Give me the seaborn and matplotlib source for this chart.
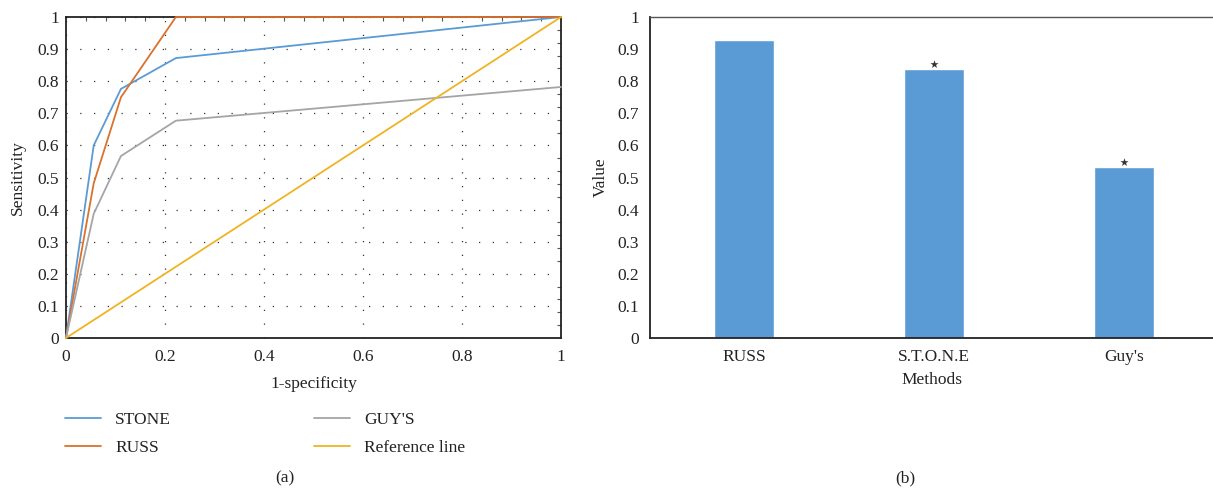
import numpy as np
import pandas as pd
import matplotlib
matplotlib.use("Agg")
import matplotlib.pyplot as plt
import seaborn as sns
from matplotlib.ticker import MultipleLocator

# ==================================================
# DATA
# ==================================================

fpr = [0, 0.056, 0.111, 0.222, 1.0]
stone_tpr = [0, 0.60, 0.776, 0.872, 1.0]
russ_tpr = [0, 0.482, 0.75, 1.0, 1.0]
guys_tpr = [0, 0.387, 0.567, 0.677, 0.782]
ref_x = [0, 1]
ref_y = [0, 1]

methods = ["RUSS", "S.T.O.N.E", "Guy's"]
values = [0.928, 0.837, 0.532]
starred = [False, True, True]

y_ticks = [0, 0.1, 0.2, 0.3, 0.4, 0.5, 0.6, 0.7, 0.8, 0.9, 1.0]
y_labels = ["0", "0.1", "0.2", "0.3", "0.4", "0.5", "0.6", "0.7", "0.8", "0.9", "1"]
x_ticks = [0, 0.2, 0.4, 0.6, 0.8, 1.0]
x_labels = ["0", "0.2", "0.4", "0.6", "0.8", "1"]

# ==================================================
# STYLE
# ==================================================

sns.set_style("white")
plt.rcParams["font.family"] = ["Liberation Serif", "DejaVu Serif"]
plt.rcParams["text.color"] = "#222222"
plt.rcParams["axes.labelcolor"] = "#222222"
plt.rcParams["xtick.color"] = "#222222"
plt.rcParams["ytick.color"] = "#222222"

FS = 12.5

c_stone = "#5B9BD5"
c_russ = "#D9722D"
c_guys = "#A5A5A5"
c_ref = "#F0B323"

fig = plt.figure(figsize=(12.13, 4.92), dpi=100)
ax1 = fig.add_axes([66 / 1213, 1 - 338 / 492, 495 / 1213, 321 / 492])
ax2 = fig.add_axes([650 / 1213, 1 - 338 / 492, 563 / 1213, 321 / 492])

# ==================================================
# ROC CURVES
# ==================================================

roc = pd.DataFrame({"x": fpr, "STONE": stone_tpr, "RUSS": russ_tpr, "GUY'S": guys_tpr})

line_kw = dict(lw=1.3, clip_on=False, zorder=4)
sns.lineplot(data=roc, x="x", y="STONE", ax=ax1, color=c_stone, label="STONE", **line_kw)
sns.lineplot(data=roc, x="x", y="RUSS", ax=ax1, color=c_russ, label="RUSS", **line_kw)
sns.lineplot(data=roc, x="x", y="GUY'S", ax=ax1, color=c_guys, label="GUY'S", **line_kw)
sns.lineplot(x=ref_x, y=ref_y, ax=ax1, color=c_ref, label="Reference line", **line_kw)

ax1.set_xlim(0, 1)
ax1.set_ylim(0, 1)
ax1.set_xticks(x_ticks)
ax1.set_xticklabels(x_labels)
ax1.set_yticks(y_ticks)
ax1.set_yticklabels(y_labels)

ax1.grid(True, color="#333333", linestyle=(0, (1, 10)), linewidth=0.9)
ax1.tick_params(axis="x", length=0, pad=8, labelsize=FS)
ax1.tick_params(axis="y", length=0, pad=5, labelsize=FS)

# small inner ticks on the top and right frame
ax1.xaxis.set_minor_locator(MultipleLocator(0.04))
ax1.yaxis.set_minor_locator(MultipleLocator(0.04))
ax1.tick_params(which="minor", direction="in", length=3, width=0.8, color="#555555",
                top=True, right=True, bottom=False, left=False)

for s in ax1.spines.values():
    s.set_color("#222222")
    s.set_linewidth(1.3)

ax1.set_xlabel("1-specificity", fontsize=FS, labelpad=8)
ax1.set_ylabel("Sensitivity", fontsize=FS, labelpad=8)

ax1.legend(
    loc="upper left",
    bbox_to_anchor=(65 / 1213, 1 - 412 / 492),
    bbox_transform=fig.transFigure,
    ncol=2,
    frameon=False,
    borderpad=0,
    borderaxespad=0,
    handlelength=2.1,
    handletextpad=0.8,
    columnspacing=8.2,
    labelspacing=0.65,
    fontsize=FS,
)

# ==================================================
# BAR CHART
# ==================================================

bars = pd.DataFrame({"Methods": methods, "Value": values})

sns.barplot(data=bars, x="Methods", y="Value", ax=ax2, color="#5B9BD5",
            saturation=1, width=0.316)

for i, flag in enumerate(starred):
    if flag:
        ax2.scatter(i, values[i] + 0.017, marker="*", s=38, color="#333333",
                    linewidths=0, zorder=5)

ax2.set_xlim(-0.495, 2.47)
ax2.set_ylim(0, 1)
ax2.set_yticks(y_ticks)
ax2.set_yticklabels(y_labels)
ax2.tick_params(axis="x", length=0, pad=8, labelsize=FS)
ax2.tick_params(axis="y", length=0, pad=8, labelsize=FS)
ax2.set_xlabel("Methods", fontsize=FS, labelpad=5)
ax2.set_ylabel("Value", fontsize=FS, labelpad=6)

ax2.spines["right"].set_visible(False)
ax2.spines["top"].set_color("#555555")
ax2.spines["top"].set_linewidth(1.0)
ax2.spines["left"].set_color("#222222")
ax2.spines["bottom"].set_color("#222222")
ax2.spines["left"].set_linewidth(1.3)
ax2.spines["bottom"].set_linewidth(1.3)

# ==================================================
# PANEL CAPTIONS
# ==================================================

fig.text(285 / 1213, 1 - 478 / 492, "(a)", ha="center", va="center", fontsize=FS)
fig.text(905 / 1213, 1 - 478 / 492, "(b)", ha="center", va="center", fontsize=FS)

fig.savefig("out.png", dpi=100)
